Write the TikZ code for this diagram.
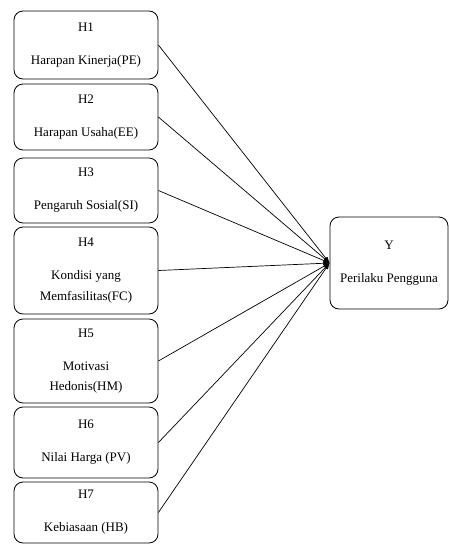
\documentclass[tikz,border=0pt]{standalone}
\usepackage{fontspec}
\setmainfont{Liberation Serif}
\usetikzlibrary{arrows.meta,positioning}

\begin{document}
\begin{tikzpicture}[
  x=1pt, y=-1pt,
  >=Latex,
  every node/.style={font=\fontsize{13}{20.5}\selectfont},
  varbox/.style={draw, line width=0.8pt, rounded corners=9pt,
    align=center, inner sep=0pt},
  hbox/.style={varbox, minimum width=144pt},
  link/.style={->, line width=0.7pt},
]
\useasboundingbox (0, 0) rectangle (449, 544);

% Independent variables
\node[hbox, minimum height=68pt] (h1) at (86, 45)
  {H1\\[12.5pt]Harapan Kinerja(PE)};
\node[hbox, minimum height=66pt] (h2) at (86, 117)
  {H2\\[12.5pt]Harapan Usaha(EE)};
\node[hbox, minimum height=65pt] (h3) at (86, 190.5)
  {H3\\[12.5pt]Pengaruh Sosial(SI)};
\node[hbox, minimum height=87pt] (h4) at (86, 270.5)
  {H4\\[12.5pt]Kondisi yang\\Memfasilitas(FC)};
\node[hbox, minimum height=84pt] (h5) at (86, 361)
  {H5\\[12.5pt]Motivasi\\Hedonis(HM)};
\node[hbox, minimum height=71pt] (h6) at (86, 442.5)
  {H6\\[12.5pt]Nilai Harga (PV)};
\node[hbox, minimum height=61pt] (h7) at (86, 512.5)
  {H7\\[12.5pt]Kebiasaan (HB)};

% Dependent variable
\node[varbox, minimum width=118pt, minimum height=92pt] (y) at (389, 263)
  {Y\\[12.5pt]Perilaku Pengguna};

% Links
\foreach \i in {1,...,7}
  \draw[link] (h\i.east) -- (y.west);
\end{tikzpicture}
\end{document}
